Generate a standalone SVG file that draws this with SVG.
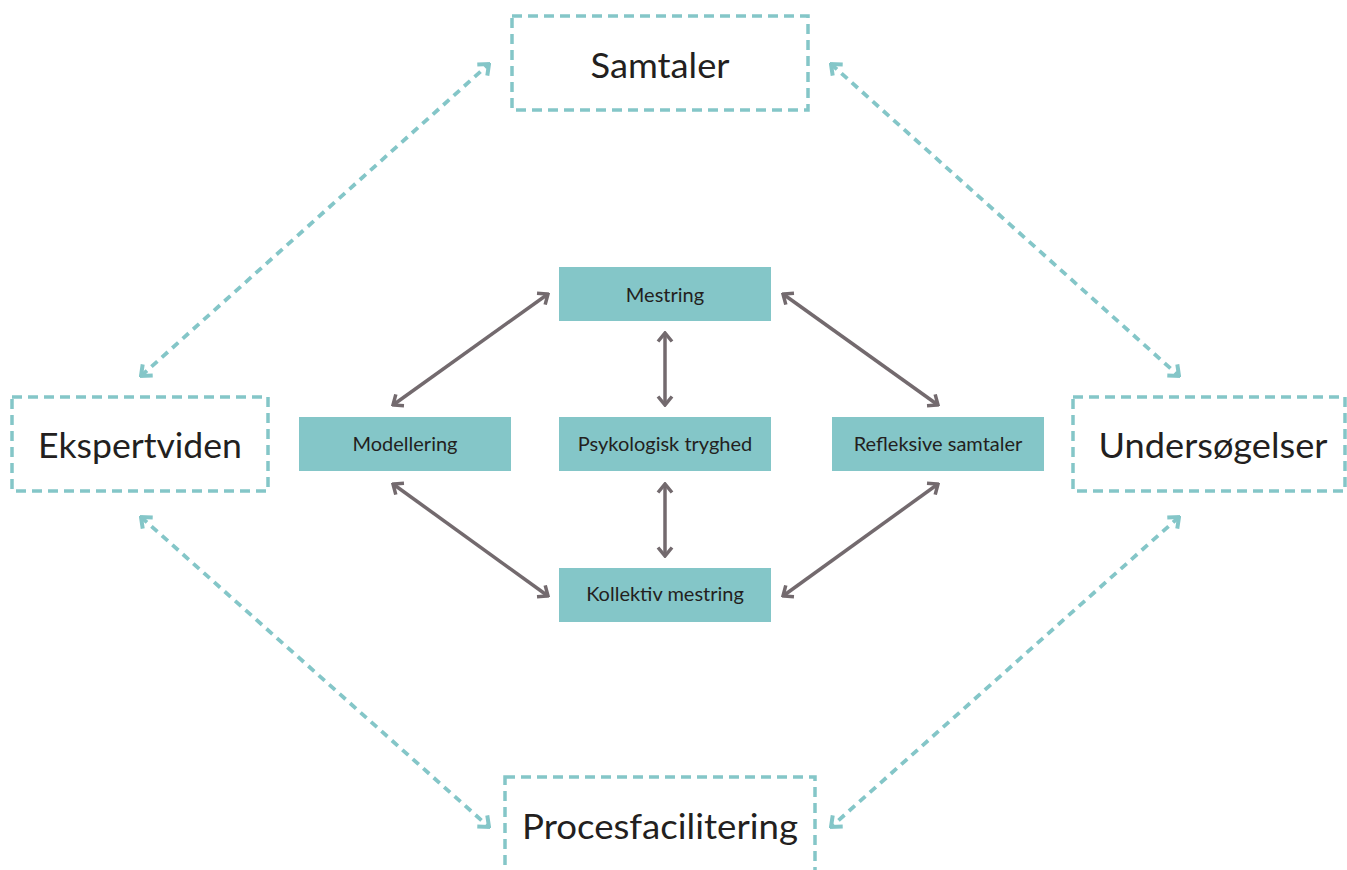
<svg xmlns="http://www.w3.org/2000/svg" width="1347" height="870" viewBox="0 0 1347 870">
<style>
.outer{fill:none;stroke:#84c6c8;stroke-width:3.5;stroke-dasharray:10 6}
.inner{fill:#84c6c8;stroke:none}
.big{font-family:Lato,"Open Sans","Liberation Sans",sans-serif;font-size:34px;fill:#231f20;text-anchor:middle}
.small{font-family:Lato,"Open Sans","Liberation Sans",sans-serif;font-size:20px;fill:#231f20;text-anchor:middle}
.tl{fill:none;stroke:#84c6c8;stroke-width:3.8;stroke-dasharray:8 6;marker-start:url(#ta);marker-end:url(#ta)}
.gl{fill:none;stroke:#736a6e;stroke-width:3.5;marker-start:url(#ga);marker-end:url(#ga)}
</style>
<defs>
<marker id="ta" markerUnits="userSpaceOnUse" viewBox="-14 -10 16 20" refX="0" refY="0" markerWidth="16" markerHeight="20" orient="auto-start-reverse">
<path d="M-9,-7.5 L0,0 L-9,7.5" fill="none" stroke="#84c6c8" stroke-width="4" stroke-dasharray="none"/>
</marker>
<marker id="ga" markerUnits="userSpaceOnUse" viewBox="-14 -10 16 20" refX="0" refY="0" markerWidth="16" markerHeight="20" orient="auto-start-reverse">
<path d="M-8.5,-7 L0,0 L-8.5,7" fill="none" stroke="#736a6e" stroke-width="3.5"/>
</marker>
</defs>
<rect width="1347" height="870" fill="#ffffff"/>
<g id="connectors">
<line class="tl" x1="141" y1="376" x2="489" y2="64"/>
<line class="tl" x1="831" y1="64" x2="1179" y2="376"/>
<line class="tl" x1="141" y1="517" x2="489" y2="827"/>
<line class="tl" x1="1179" y1="517" x2="831" y2="827"/>
<line class="gl" x1="393" y1="405" x2="548" y2="294"/>
<line class="gl" x1="665" y1="333" x2="665" y2="405"/>
<line class="gl" x1="783" y1="294" x2="938" y2="405"/>
<line class="gl" x1="665" y1="484" x2="665" y2="556"/>
<line class="gl" x1="393" y1="484" x2="548" y2="596"/>
<line class="gl" x1="938" y1="484" x2="783" y2="596"/>
</g>
<g id="samtaler">
<rect class="outer" x="512" y="16" width="296" height="94"/>
<text class="big" x="660" y="78" textLength="139" lengthAdjust="spacingAndGlyphs">Samtaler</text>
</g>
<g id="ekspertviden">
<rect class="outer" x="12" y="397" width="256" height="94"/>
<text class="big" x="140" y="458" textLength="204" lengthAdjust="spacingAndGlyphs">Ekspertviden</text>
</g>
<g id="undersogelser">
<rect class="outer" x="1073" y="397" width="272" height="94"/>
<text class="big" x="1213" y="458" textLength="229" lengthAdjust="spacingAndGlyphs">Undersøgelser</text>
</g>
<g id="procesfacilitering">
<rect class="outer" x="505" y="777" width="310" height="110"/>
<text class="big" x="660" y="839" textLength="276" lengthAdjust="spacingAndGlyphs">Procesfacilitering</text>
</g>
<g id="mestring">
<rect class="inner" x="559" y="267" width="212" height="54"/>
<text class="small" x="665" y="302">Mestring</text>
</g>
<g id="modellering">
<rect class="inner" x="299" y="417" width="212" height="54"/>
<text class="small" x="405" y="451">Modellering</text>
</g>
<g id="psykologisk">
<rect class="inner" x="559" y="417" width="212" height="54"/>
<text class="small" x="665" y="451">Psykologisk tryghed</text>
</g>
<g id="refleksive">
<rect class="inner" x="832" y="417" width="212" height="54"/>
<text class="small" x="938" y="451">Refleksive samtaler</text>
</g>
<g id="kollektiv">
<rect class="inner" x="559" y="568" width="212" height="54"/>
<text class="small" x="665" y="601">Kollektiv mestring</text>
</g>
</svg>
